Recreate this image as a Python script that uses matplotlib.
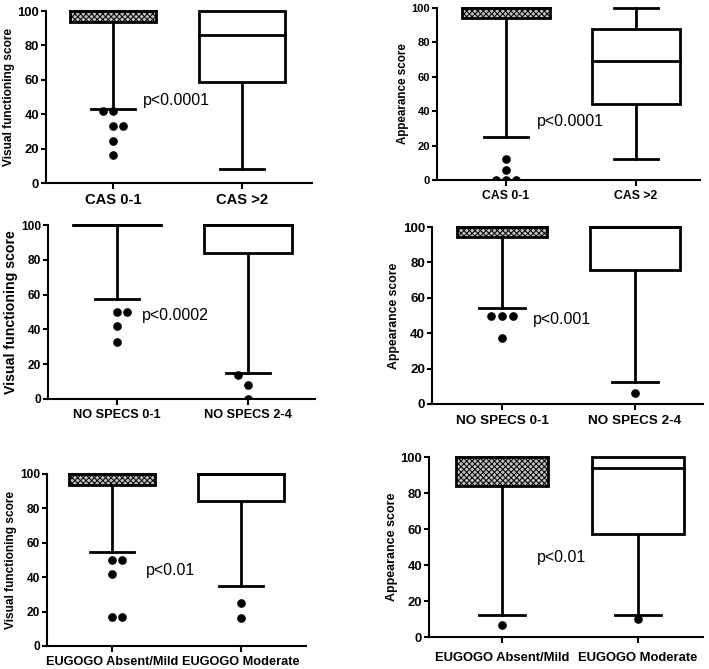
import matplotlib
matplotlib.use("Agg")
import matplotlib.pyplot as plt
from matplotlib.patches import Rectangle

plt.rcParams["font.family"] = ["Liberation Sans", "DejaVu Sans"]
plt.rcParams["hatch.linewidth"] = 0.7
plt.rcParams["hatch.color"] = "#333333"

# ---- data: per panel, two groups (q1, median, q3, whisker_lo, whisker_hi) ----
cas_labels = ["CAS 0-1", "CAS >2"]
specs_labels = ["NO SPECS 0-1", "NO SPECS 2-4"]
eugogo_labels = ["EUGOGO Absent/Mild", "EUGOGO Moderate"]

vf_cas_box = [(93.5, 100, 100, 43, 100), (58.5, 86, 100, 8, 100)]
vf_cas_out = [[42, 42, 33, 33, 24.5, 16.5], []]
app_cas_box = [(94.3, 100, 100, 25, 100), (44, 69, 88, 12.3, 100)]
app_cas_out = [[12.3, 6, 0, 0, 0], []]

vf_specs_box = [(100, 100, 100, 57.5, 100), (84, 100, 100, 15, 100)]
vf_specs_out = [[50, 50, 42, 33], [14, 8, 0]]
app_specs_box = [(94.4, 100, 100, 54.5, 100), (75.5, 100, 100, 12.5, 100)]
app_specs_out = [[50, 50, 50, 37.5], [6]]

vf_eug_box = [(93.6, 100, 100, 54.5, 100), (84.5, 100, 100, 35, 100)]
vf_eug_out = [[50, 50, 42, 16.8, 16.8], [25, 16]]
app_eug_box = [(84, 100, 100, 12.4, 100), (57, 94, 100, 12.4, 100)]
app_eug_out = [[6.5], [10]]

p_texts = ["p<0.0001", "p<0.0001", "p<0.0002", "p<0.001", "p<0.01", "p<0.01"]
p_y = [48, 34, 48, 48, 44, 44]

# ---- layout (pixels: left, right, top, bottom), font sizes and dot shifts ----
W, H = 709, 669
panels = [
    dict(box=vf_cas_box, out=vf_cas_out, labels=cas_labels, ylab="Visual functioning score",
         px=(46, 312, 11, 183), c=(113, 242), shift=[[-1, 0, 0, 1, 0, 0], []], px_x=0.23,
         ylfs=8.6, yfs=9.4, xfs=10.6, xpad=3),
    dict(box=app_cas_box, out=app_cas_out, labels=cas_labels, ylab="Appearance score",
         px=(437, 700, 8, 180), c=(506, 636), shift=[[0, 0, -1, 0, 1], []], px_x=0.24,
         ylfs=8.4, yfs=8.0, xfs=8.8, xpad=3),
    dict(box=vf_specs_box, out=vf_specs_out, labels=specs_labels, ylab="Visual functioning score",
         px=(48, 315, 225, 399), c=(117, 248), shift=[[0, 1, 0, 0], [-1, 0, 0]], px_x=0.19,
         ylfs=10.2, yfs=8.6, xfs=9.2, xpad=3),
    dict(box=app_specs_box, out=app_specs_out, labels=specs_labels, ylab="Appearance score",
         px=(432, 703, 227, 404), c=(502, 635), shift=[[-1, 0, 1, 0], [0]], px_x=0.23,
         ylfs=8.8, yfs=9.6, xfs=9.7, xpad=4),
    dict(box=vf_eug_box, out=vf_eug_out, labels=eugogo_labels, ylab="Visual functioning score",
         px=(47, 306, 474, 646), c=(112, 241), shift=[[0, 1, 0, 0, 1], [0, 0]], px_x=0.26,
         ylfs=8.6, yfs=8.6, xfs=9.2, xpad=3),
    dict(box=app_eug_box, out=app_eug_out, labels=eugogo_labels, ylab="Appearance score",
         px=(429, 703, 457, 637), c=(502, 638), shift=[[0], [0]], px_x=0.26,
         ylfs=9.0, yfs=9.4, xfs=9.4, xpad=7),
]

BOX_W = 0.67
CAP_W = 0.34
DOT_DX = 0.08
LW = 2.0

fig = plt.figure(figsize=(W / 100, H / 100), dpi=100)

for i, p in enumerate(panels):
    l, r, t, b = p["px"]
    ax = fig.add_axes([l / W, 1 - b / H, (r - l) / W, (b - t) / H])
    c1, c2 = p["c"]
    unit = c2 - c1
    ax.set_xlim((l - c1) / unit, (r - c1) / unit)
    ax.set_ylim(0, 100)

    for k, (q1, med, q3, wlo, whi) in enumerate(p["box"]):
        x0 = k - BOX_W / 2
        hatched = k == 0 and q3 - q1 > 0
        ax.add_patch(Rectangle((x0, q1), BOX_W, q3 - q1,
                               facecolor="#c0c0c0" if hatched else "white",
                               hatch="xxxxxx" if hatched else None,
                               edgecolor="black", lw=LW, clip_on=False, zorder=3))
        ax.plot([x0, x0 + BOX_W], [med, med], color="black", lw=LW, clip_on=False, zorder=4)
        # whiskers + caps
        if wlo < q1:
            ax.plot([k, k], [wlo, q1], color="black", lw=LW, clip_on=False, zorder=2)
            ax.plot([k - CAP_W / 2, k + CAP_W / 2], [wlo, wlo], color="black", lw=LW,
                    clip_on=False, zorder=2)
        if whi > q3:
            ax.plot([k, k], [q3, whi], color="black", lw=LW, clip_on=False, zorder=2)
            ax.plot([k - CAP_W / 2, k + CAP_W / 2], [whi, whi], color="black", lw=LW,
                    clip_on=False, zorder=2)
        outs = p["out"][k]
        if outs:
            xs = [k + s * DOT_DX for s in p["shift"][k]]
            ax.plot(xs, outs, "o", color="black", ms=5.2, zorder=5)

    ax.text(p["px_x"], p_y[i], p_texts[i], fontsize=11.5, va="center", ha="left")

    for side in ("top", "right"):
        ax.spines[side].set_visible(False)
    for side in ("left", "bottom"):
        ax.spines[side].set_linewidth(1.5)
    ax.set_yticks([0, 20, 40, 60, 80, 100])
    ax.set_xticks([0, 1])
    ax.set_xticklabels(p["labels"], fontsize=p["xfs"], fontweight="bold")
    for lab in ax.get_yticklabels():
        lab.set_fontweight("bold")
        lab.set_fontsize(p["yfs"])
    ax.tick_params(axis="y", length=3.5, width=1.5, pad=1.5)
    ax.tick_params(axis="x", length=4, width=1.5, pad=p["xpad"])
    ax.set_ylabel(p["ylab"], fontsize=p["ylfs"], fontweight="bold", labelpad=2)

fig.savefig("out.png", dpi=100)
